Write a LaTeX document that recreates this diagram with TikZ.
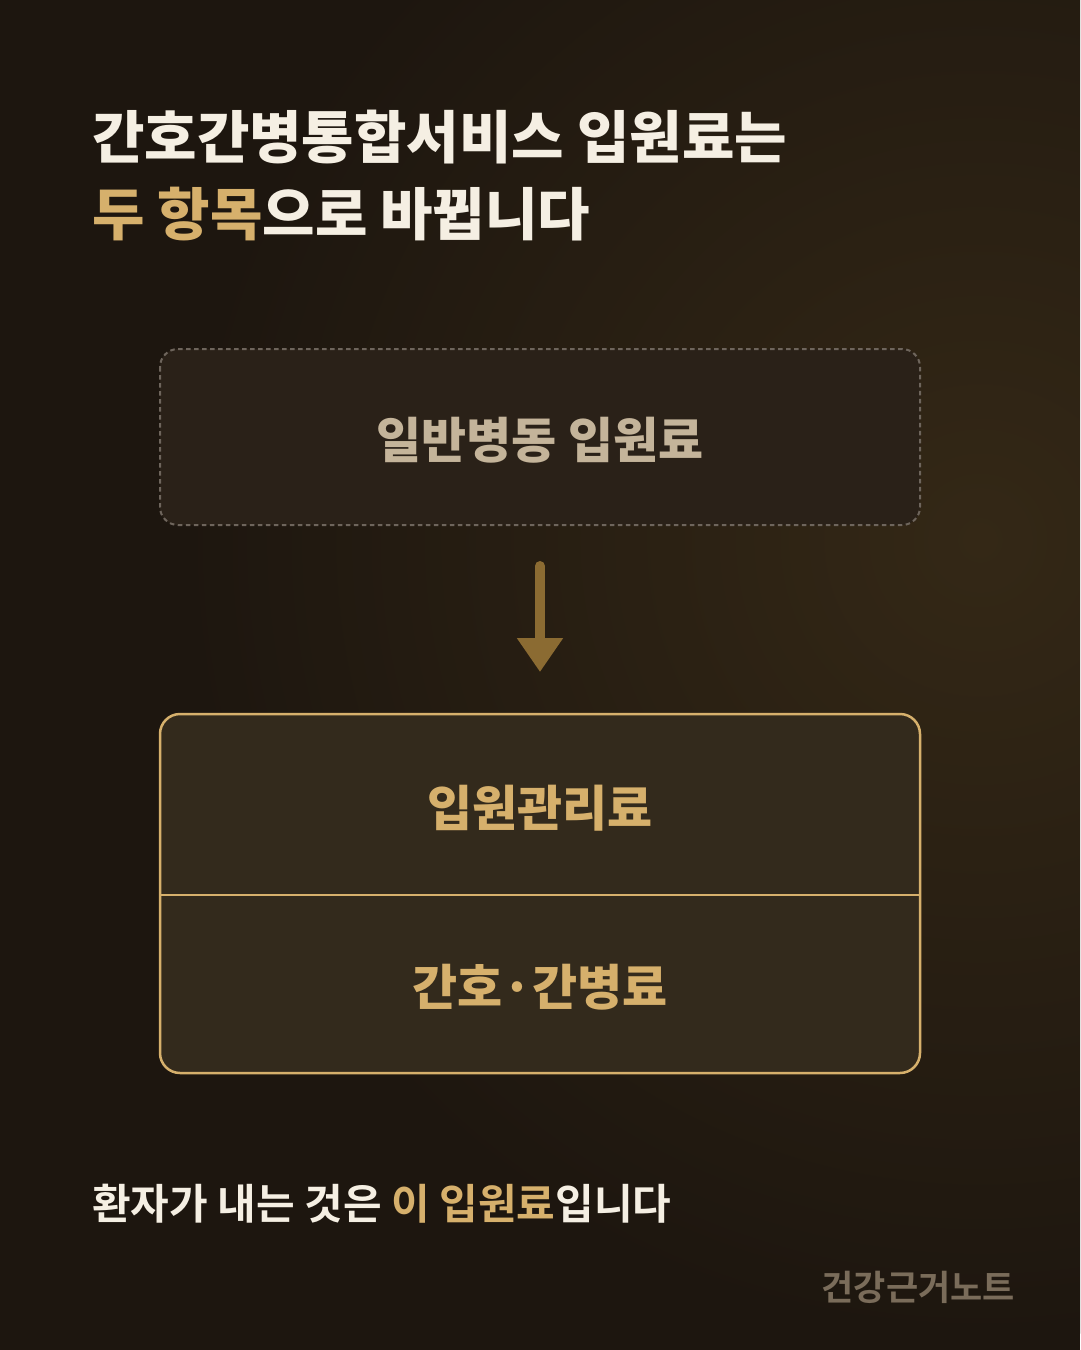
\documentclass[tikz,border=0pt]{standalone}
\usepackage{fontspec}
\setmainfont{Noto Sans CJK KR}[BoldFont={* Bold}]
\newfontfamily\heavyfont{Noto Sans CJK KR Black}
\usetikzlibrary{arrows.meta}
\definecolor{bgdark}{HTML}{1D160F}
\definecolor{bgglow}{HTML}{342816}
\definecolor{cream}{HTML}{F5EFE3}
\definecolor{gold}{HTML}{D6B06C}
\definecolor{oldfill}{HTML}{2A2118}
\definecolor{oldline}{HTML}{6E655C}
\definecolor{oldtext}{HTML}{C4B49A}
\definecolor{arrowgold}{HTML}{8B6B32}
\definecolor{newfill}{HTML}{332A1C}
\definecolor{marktext}{HTML}{7A6C5A}
\begin{document}
\begin{tikzpicture}[x=1pt,y=-1pt,
    title/.style={anchor=base west,inner sep=0pt,font=\heavyfont\fontsize{57}{60}\selectfont},
    boxtext/.style={inner sep=0pt,font=\heavyfont\fontsize{49}{52}\selectfont}]
        \useasboundingbox (0,0) rectangle (1080,1350);
        % background
        \fill[bgdark] (0,0) rectangle (1080,1350);
        \begin{scope}
            \clip (0,0) rectangle (1080,1350);
            \shade[inner color=bgglow,outer color=bgdark] (980,540) circle (800);
        \end{scope}
        % title
        \node[title,text=cream] (t1) at (92,158) {간호간병통합서비스 입원료는};
        \node[title] (t2) at (92,235) {\textcolor{gold}{두 항목}\textcolor{cream}{으로 바뀝니다}};
        % old fee
        \coordinate (A) at (160,349);
        \coordinate (B) at (920,525);
        \draw[oldline,line width=2pt,dash pattern=on 4.5pt off 3.5pt,fill=oldfill,rounded corners=18pt] (A) rectangle (B);
        \node[boxtext,text=oldtext] (old) at (540,440) {일반병동 입원료};
        % arrow
        \coordinate (S) at (540,566);
        \coordinate (T) at (540,672);
        \draw[arrowgold,line width=10pt,line cap=round,-{Triangle[width=44pt,length=34pt]}] (S) -- (T);
        % new fees
        \coordinate (C) at (160,714);
        \coordinate (D) at (920,1073);
        \coordinate (L) at (160,895);
        \coordinate (R) at (920,895);
        \draw[gold,line width=2.5pt,fill=newfill,rounded corners=20pt] (C) rectangle (D);
        \draw[gold,line width=2.5pt] (L) -- (R);
        \node[boxtext,text=gold] (fee1) at (540,808) {입원관리료};
        \node[boxtext,text=gold] (fee2) at (540,987) {간호·간병료};
        % bottom
        \node[anchor=base west,inner sep=0pt,font=\bfseries\fontsize{42}{46}\selectfont] (note) at (92,1219)
            {\textcolor{cream}{환자가 내는 것은 }\textcolor{gold}{이 입원료}\textcolor{cream}{입니다}};
        \node[anchor=base east,inner sep=0pt,text=marktext,font=\bfseries\fontsize{35}{38}\selectfont] (mark) at (1015,1300) {건강근거노트};
    \end{tikzpicture}
\end{document}
